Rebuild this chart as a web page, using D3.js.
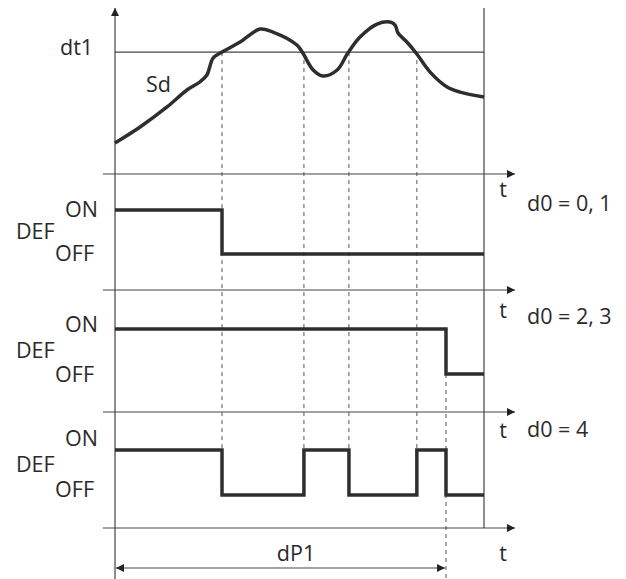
<!DOCTYPE html>
<html>
<head>
<meta charset="utf-8">
<script src="https://cdn.jsdelivr.net/npm/d3@7/dist/d3.min.js"></script>
<style>
  html, body { margin: 0; padding: 0; background: #fff; }
  svg { display: block; }
  text { font-family: "Open Sans", sans-serif; font-size: 21.5px; fill: #2a2a2a; }
</style>
</head>
<body>
<script>
// ---- data (time units 0..100, temperature units 0..100) ----
const sdTime  = [0, 6.8, 14.1, 19.5, 23.0, 24.9, 26.6, 29.0, 33.9, 39.3, 42.8, 49.3, 50.9, 53.7, 56.4, 60.2, 63.1, 66.4, 71.0, 74.5, 75.9, 76.7, 79.1, 81.6, 85.4, 90.0, 93.5, 100];
const sdValue = [19.4, 29.4, 41.9, 52.5, 57.5, 61.9, 72.5, 76.2, 82.5, 90.6, 88.7, 80.6, 75.6, 65, 61.2, 65, 75.6, 85.6, 93.7, 95, 93.1, 88.1, 82.5, 75.6, 63.7, 54.4, 51.2, 48.1];
const dt1 = 76.2;
const crossTimes = [29.0, 51.2, 63.4, 81.8];
const dP1 = 89.7;
const panelLabels = ["d0 = 0, 1", "d0 = 2, 3", "d0 = 4"];
const stateLabels = ["ON", "DEF", "OFF"];
const defTimes1 = [0, 29.0, 100];
const defState1 = [1, 0, 0];
const defTimes2 = [0, 89.7, 100];
const defState2 = [1, 0, 0];
const defTimes3 = [0, 29.0, 51.2, 63.4, 81.8, 89.7, 100];
const defState3 = [1, 0, 1, 0, 1, 0, 0];

// ---- layout ----
const W = 626, H = 579;
const svg = d3.select("body").append("svg").attr("width", W).attr("height", H);
const x = d3.scaleLinear().domain([0, 100]).range([115, 484]);
const yT = d3.scaleLinear().domain([0, 100]).range([174, 14]);
const axisY = [174, 290, 412, 528];
const panels = [
  {top: 174, on: 210, off: 254, times: defTimes1, states: defState1, lab: [208, 230, 252], d0y: 202, ty: 188},
  {top: 290, on: 329, off: 374, times: defTimes2, states: defState2, lab: [323, 349, 373], d0y: 315, ty: 309},
  {top: 412, on: 450, off: 495, times: defTimes3, states: defState3, lab: [437, 463, 488], d0y: 428, ty: 429}
];
const thin = "#444", thick = "#2e2e2e";

const defs = svg.append("defs");
function marker(id, orient) {
  defs.append("marker").attr("id", id)
    .attr("viewBox", "0 0 10 10").attr("refX", 10).attr("refY", 5)
    .attr("markerWidth", 9).attr("markerHeight", 8)
    .attr("markerUnits", "userSpaceOnUse")
    .attr("orient", orient)
    .append("path").attr("d", "M0,0 L10,5 L0,10 Z").attr("fill", "#222");
}
marker("arr", "auto");
marker("arrS", "auto-start-reverse");

// dashed guide lines
crossTimes.forEach(t => {
  svg.append("line").attr("x1", x(t)).attr("x2", x(t))
    .attr("y1", yT(dt1)).attr("y2", panels[2].on)
    .attr("stroke", "#555").attr("stroke-width", 1).attr("stroke-dasharray", "4,4");
});
svg.append("line").attr("x1", x(dP1)).attr("x2", x(dP1))
  .attr("y1", panels[1].off).attr("y2", H)
  .attr("stroke", "#555").attr("stroke-width", 1).attr("stroke-dasharray", "4,4");

// left vertical axis with arrow
svg.append("line").attr("x1", x(0)).attr("x2", x(0)).attr("y1", H).attr("y2", 8)
  .attr("stroke", thin).attr("stroke-width", 1.2).attr("marker-end", "url(#arr)");
// right vertical line
svg.append("line").attr("x1", x(100)).attr("x2", x(100)).attr("y1", 8).attr("y2", axisY[3])
  .attr("stroke", thin).attr("stroke-width", 1.2);

// horizontal time axes
axisY.forEach(y => {
  svg.append("line").attr("x1", 103).attr("x2", 515).attr("y1", y).attr("y2", y)
    .attr("stroke", thin).attr("stroke-width", 1.2).attr("marker-end", "url(#arr)");
});

// dt1 line
svg.append("line").attr("x1", x(0)).attr("x2", x(100)).attr("y1", yT(dt1)).attr("y2", yT(dt1))
  .attr("stroke", thin).attr("stroke-width", 1.2);
svg.append("text").attr("x", 60).attr("y", yT(dt1) - 6).attr("dominant-baseline", "central").text("dt1");

// Sd curve
const sdLine = d3.line().x(d => x(d[0])).y(d => yT(d[1])).curve(d3.curveCatmullRom.alpha(0.5));
svg.append("path").datum(sdTime.map((t, i) => [t, sdValue[i]]))
  .attr("d", sdLine).attr("fill", "none").attr("stroke", thick).attr("stroke-width", 3.5)
  .attr("stroke-linejoin", "round");
svg.append("text").attr("x", 146).attr("y", 83).attr("dominant-baseline", "central").text("Sd");

// DEF panels
panels.forEach((p, k) => {
  const ys = d3.scaleLinear().domain([0, 1]).range([p.off, p.on]);
  const line = d3.line().x(d => x(d[0])).y(d => ys(d[1])).curve(d3.curveStepAfter);
  svg.append("path").datum(p.times.map((t, i) => [t, p.states[i]]))
    .attr("d", line).attr("fill", "none").attr("stroke", thick).attr("stroke-width", 3.5)
    .attr("stroke-linejoin", "miter");
  svg.append("text").attr("x", 98).attr("y", p.lab[0]).attr("text-anchor", "end").attr("dominant-baseline", "central").text(stateLabels[0]);
  svg.append("text").attr("x", 16).attr("y", p.lab[1]).attr("dominant-baseline", "central").text(stateLabels[1]);
  svg.append("text").attr("x", 94).attr("y", p.lab[2]).attr("text-anchor", "end").attr("dominant-baseline", "central").text(stateLabels[2]);
  svg.append("text").attr("x", 527).attr("y", p.d0y).attr("dominant-baseline", "central").text(panelLabels[k]);
  svg.append("text").attr("x", 503).attr("y", p.ty).attr("text-anchor", "middle").attr("dominant-baseline", "central").text("t");
});

// bottom t and dP1
svg.append("text").attr("x", 503).attr("y", 552).attr("text-anchor", "middle").attr("dominant-baseline", "central").text("t");
svg.append("text").attr("x", 296).attr("y", 552).attr("text-anchor", "middle").attr("dominant-baseline", "central").text("dP1");
svg.append("line").attr("x1", x(0) + 1).attr("x2", x(dP1) - 1).attr("y1", 568).attr("y2", 568)
  .attr("stroke", thin).attr("stroke-width", 1.2)
  .attr("marker-start", "url(#arrS)").attr("marker-end", "url(#arr)");
</script>
</body>
</html>
